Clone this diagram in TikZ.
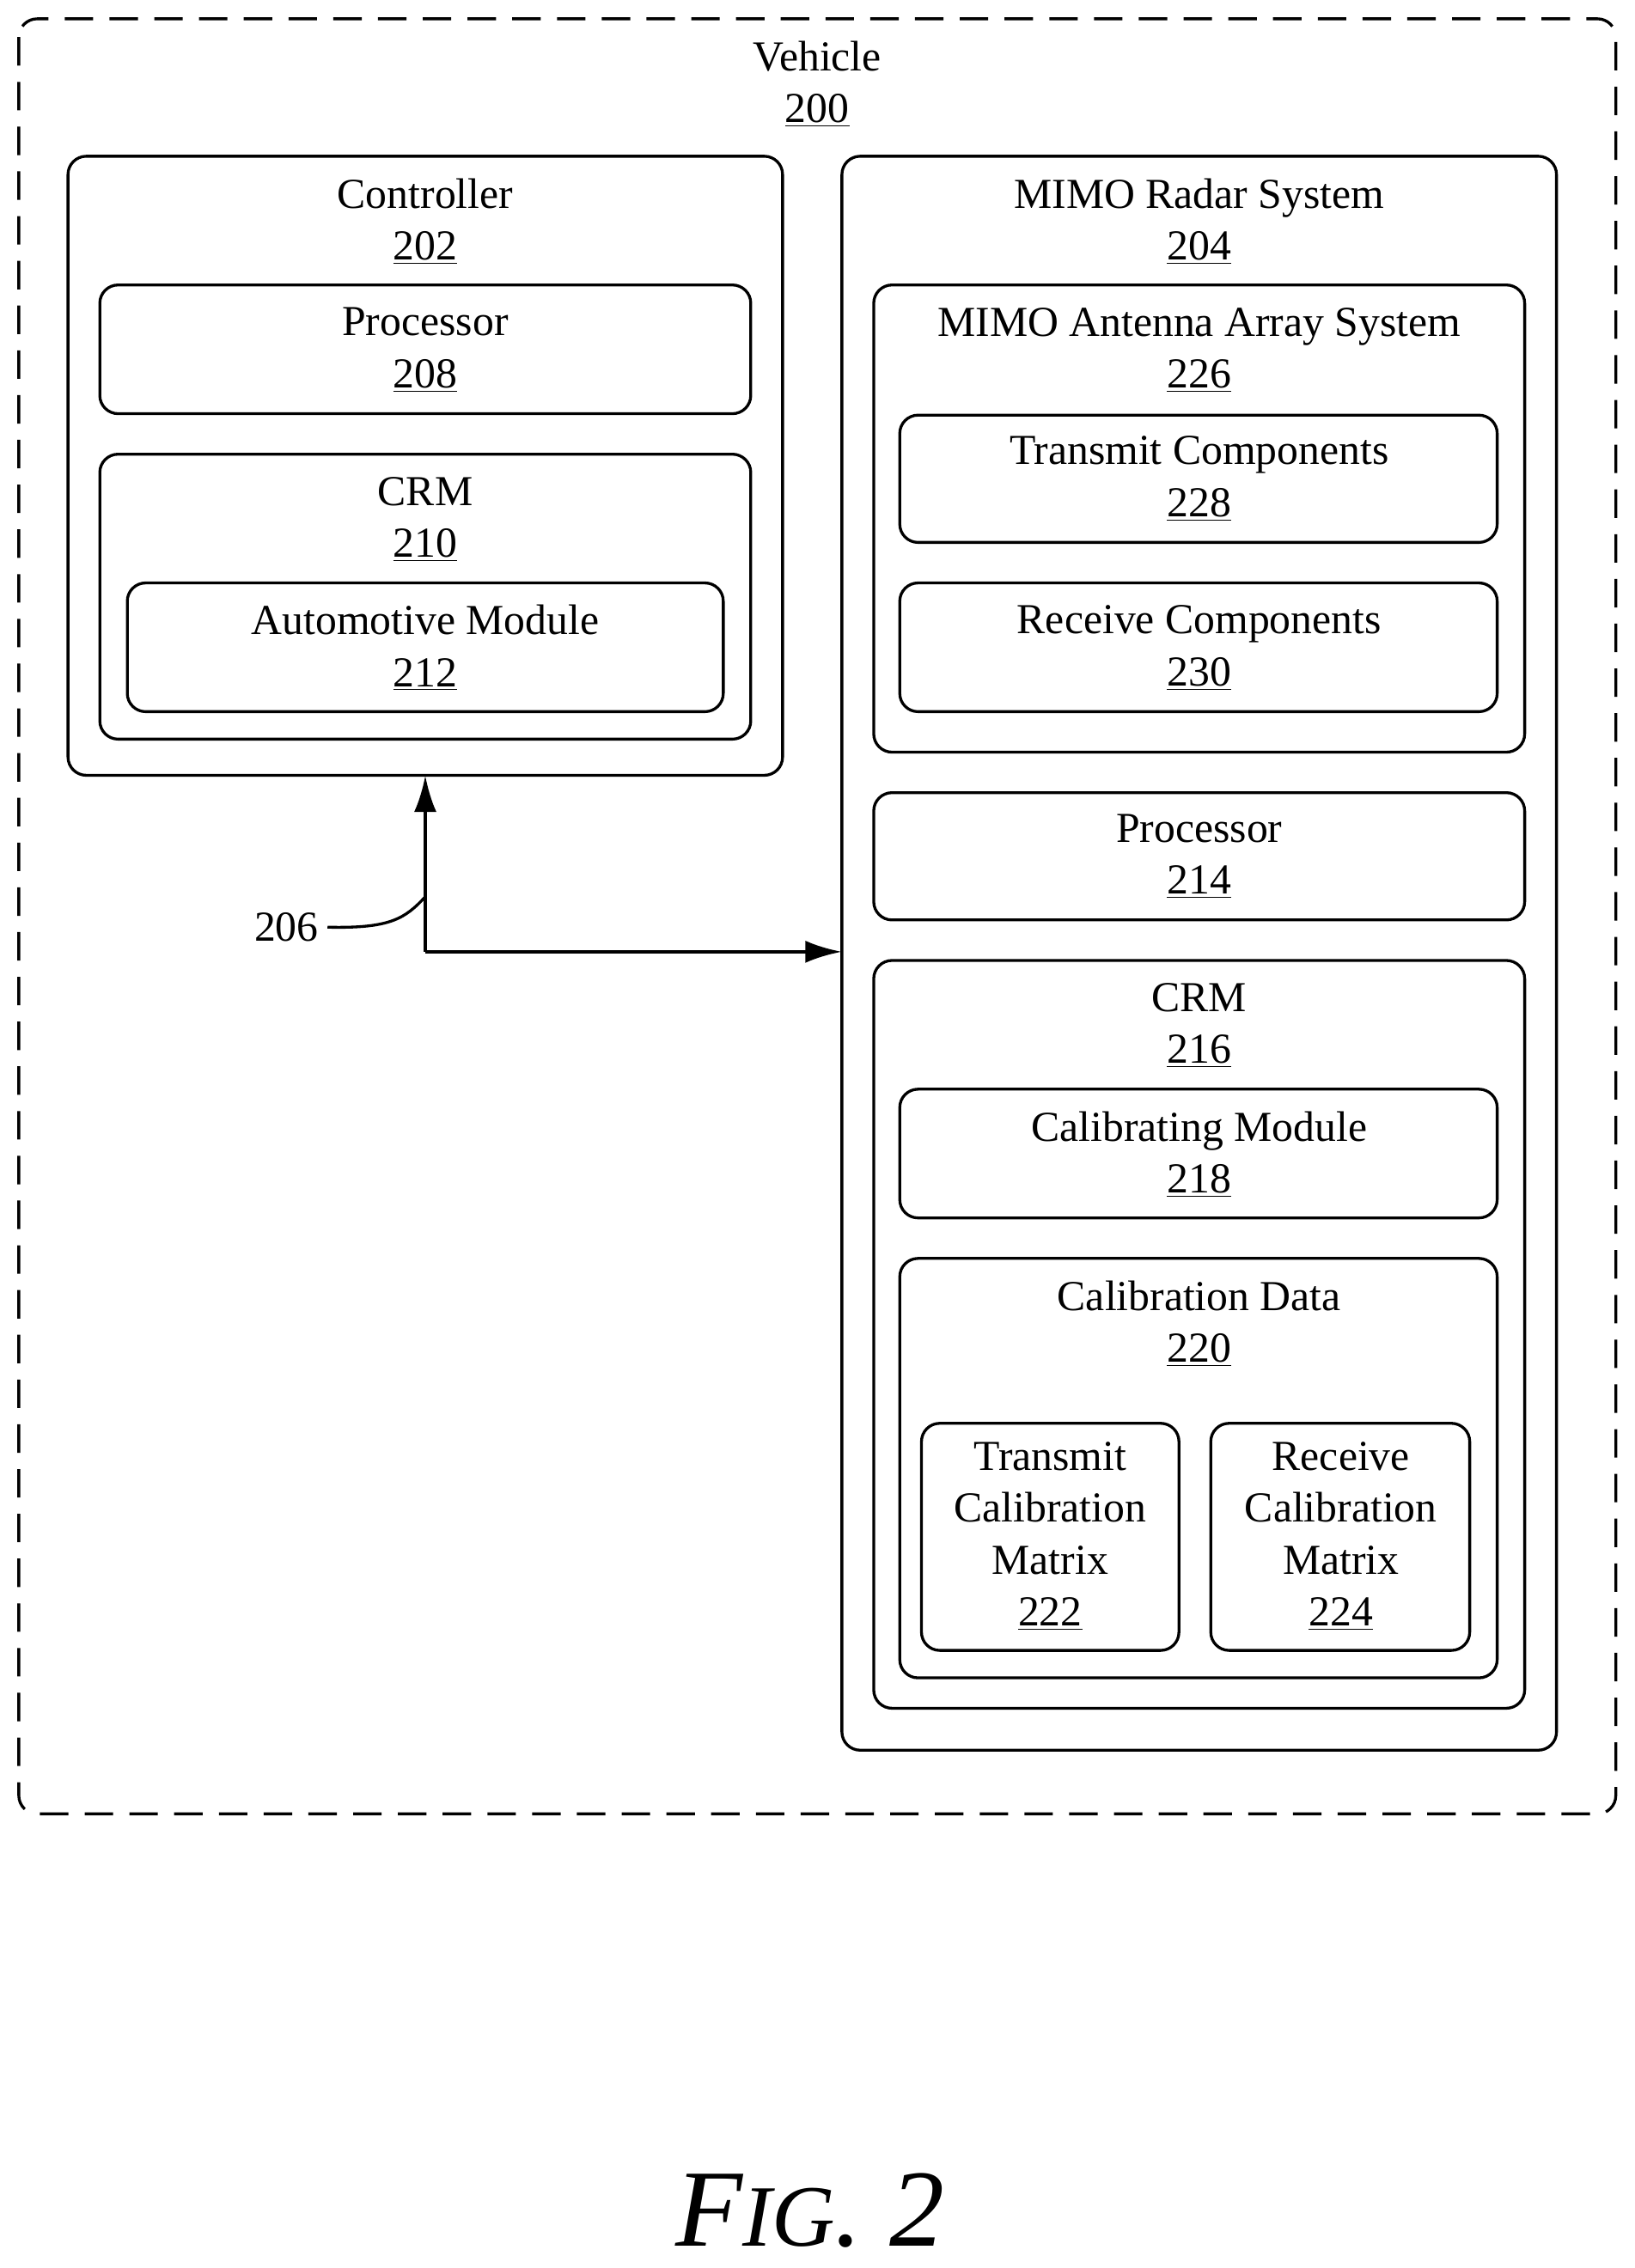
\documentclass[tikz,border=0pt]{standalone}
\usepackage{fontspec}
\setmainfont{Liberation Serif}
\usetikzlibrary{positioning,arrows.meta}

\tikzset{
  box/.style={draw, line width=1.4pt, rounded corners=9pt},
  lbl/.style={align=center, font=\fontsize{21}{25.5}\selectfont, inner sep=0pt},
  bus/.style={line width=1.8pt, -{Latex[length=18pt,width=11pt]}},
}

\begin{document}
\begin{tikzpicture}[x=0.025cm, y=-0.025cm]
\useasboundingbox (0,0) rectangle (1130,1568);

% vehicle
\draw[box, dash pattern=on 14pt off 8pt] (13,13) rectangle (1117,1254);
\node[lbl] (veh) at (565,58) {Vehicle\\\underline{200}};

% controller side
\draw[box] (47,108) rectangle (541,536);
\node[lbl] (ctrl) at (294,153) {Controller\\\underline{202}};
\draw[box] (69,197) rectangle (519,286);
\node[lbl] (proc1) at (294,242) {Processor\\\underline{208}};
\draw[box] (69,314) rectangle (519,511);
\node[lbl] (crm1) at (294,359) {CRM\\\underline{210}};
\draw[box] (88,403) rectangle (500,492);
\node[lbl] (auto) at (294,448) {Automotive Module\\\underline{212}};

% radar side
\draw[box] (582,108) rectangle (1076,1210);
\node[lbl] (radar) at (829,153) {MIMO Radar System\\\underline{204}};
\draw[box] (604,197) rectangle (1054,520);
\node[lbl] (ant) at (829,242) {MIMO Antenna Array System\\\underline{226}};
\draw[box] (622,287) rectangle (1035,375);
\node[lbl] (tx) at (829,331) {Transmit Components\\\underline{228}};
\draw[box] (622,403) rectangle (1035,492);
\node[lbl] (rx) at (829,448) {Receive Components\\\underline{230}};
\draw[box] (604,548) rectangle (1054,636);
\node[lbl] (proc2) at (829,592) {Processor\\\underline{214}};
\draw[box] (604,664) rectangle (1054,1181);
\node[lbl] (crm2) at (829,709) {CRM\\\underline{216}};
\draw[box] (622,753) rectangle (1035,842);
\node[lbl] (calmod) at (829,798) {Calibrating Module\\\underline{218}};
\draw[box] (622,870) rectangle (1035,1160);
\node[lbl] (caldata) at (829,915) {Calibration Data\\\underline{220}};
\draw[box] (637,984) rectangle (815,1141);
\node[lbl] (txcal) at (726,1062) {Transmit\\Calibration\\Matrix\\\underline{222}};
\draw[box] (837,984) rectangle (1016,1141);
\node[lbl] (rxcal) at (927,1062) {Receive\\Calibration\\Matrix\\\underline{224}};

% bus
\coordinate (ctrlS) at (294,536);
\coordinate (radarW) at (582,658);
\draw[bus] (294,658) -- (ctrlS);
\draw[bus] (294,658) -- (radarW);
\node[lbl] (bus) at (198,641) {206};
\draw[line width=1.4pt] (bus.east) ++(6,0) .. controls (270,642) and (280,635) .. (294,620);

% figure label
\node[inner sep=0pt] (fig) at (560,1528) {\fontsize{54}{60}\selectfont\itshape F{\fontsize{43}{50}\selectfont IG}. 2};
\end{tikzpicture}
\end{document}
